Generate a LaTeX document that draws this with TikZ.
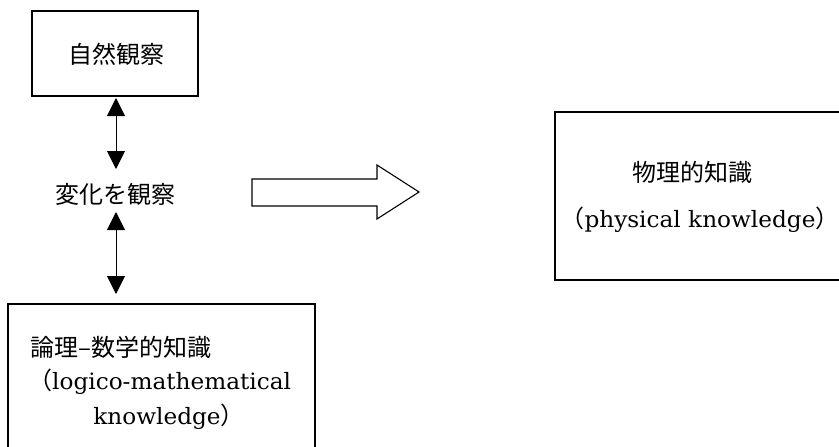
\documentclass[tikz,border=0pt]{standalone}
\usepackage{fontspec}
\setmainfont{DejaVu Serif}[FakeStretch=1.03]
\newfontfamily\jp{Noto Sans CJK JP}
\usetikzlibrary{arrows.meta}
\tikzset{
  frame/.style={draw, line width=1.1pt},
  label/.style={inner sep=0pt, font=\fontsize{24}{28}\selectfont},
  latin/.style={inner sep=0pt, font=\fontsize{22.5}{26}\selectfont},
  link/.style={line width=1pt, {Triangle[width=18pt,length=18pt]}-{Triangle[width=18pt,length=18pt]}}
}
\newcommand{\jpparen}[1]{{\fontsize{24}{28}\selectfont\jp #1}}
\begin{document}
\begin{tikzpicture}[x=1pt, y=-1pt]
  \useasboundingbox (0,0) rectangle (839,447);
  \clip (0,0) rectangle (839,447);

  % top box: observing nature
  \draw[frame] (32,11) rectangle (198,96);
  \node[label] (nature) at (116,54) {\jp 自然観察};
  \coordinate (natureB) at (116,98);

  % middle label
  \node[label] (change) at (116,194) {\jp 変化を観察};
  \coordinate (changeT) at (116,169);
  \coordinate (changeB) at (116,212);

  % bottom box: logico-mathematical knowledge
  \draw[frame] (8,304) rectangle (315,460);
  \coordinate (logicT) at (116,294);
  \node[label, anchor=west] (logic1) at (30,347) {\jp 論理–数学的知識};
  \node[latin, anchor=west] (logic2) at (28,382) {\jpparen{（}logico-mathematical};
  \node[latin] (logic3) at (169,417) {knowledge\jpparen{）}};

  % two-way links
  \draw[link] (natureB) -- (changeT);
  \draw[link] (changeB) -- (logicT);

  % hollow block arrow
  \draw[line width=1.1pt, line join=miter]
    (252,179) -- (377,179) -- (377,165) -- (419,192) -- (377,219) -- (377,206) -- (252,206) -- cycle;

  % right box: physical knowledge
  \draw[frame] (555,112) rectangle (850,280);
  \node[label] (phys1) at (692,172) {\jp 物理的知識};
  \node[latin] (phys2) at (700,220) {\jpparen{（}physical knowledge\jpparen{）}};
\end{tikzpicture}
\end{document}
